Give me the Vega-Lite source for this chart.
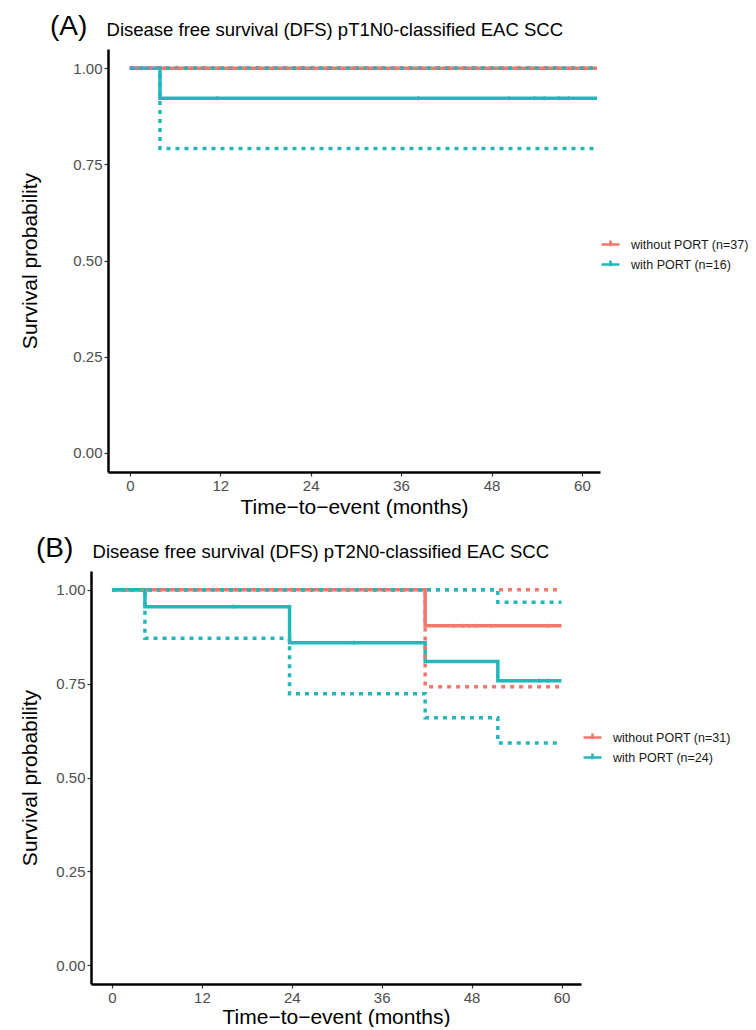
{
  "$schema": "https://vega.github.io/schema/vega-lite/v6.json",
  "padding": {"left": 19, "top": 13, "right": 0, "bottom": 0},
  "background": "white",
  "spacing": 18,
  "columns": 1,
  "align": "none",
  "config": {
    "font": "Liberation Sans",
    "view": {"stroke": null},
    "axis": {
      "grid": false,
      "domainColor": "black",
      "domainWidth": 2.5,
      "tickColor": "#333333",
      "tickWidth": 1.2,
      "tickSize": 4,
      "labelColor": "#4D4D4D",
      "labelFontSize": 15,
      "labelFont": "Liberation Sans",
      "titleFont": "Liberation Sans",
      "titleFontSize": 21,
      "titleFontWeight": "normal",
      "titleColor": "black"
    },
    "legend": {
      "labelFont": "Liberation Sans",
      "labelFontSize": 12.5,
      "labelColor": "#1a1a1a",
      "labelOffset": 10,
      "symbolType": "M-1,0H1M0,-0.45V0.2",
      "symbolSize": 324,
      "symbolStrokeWidth": 2.6,
      "rowPadding": 2
    }
  },
  "datasets": {
    "A": [
      {"group": "without PORT (n=37)", "t": 0, "s": 1, "lo": 1, "hi": 1},
      {"group": "without PORT (n=37)", "t": 62, "s": 1, "lo": 1, "hi": 1},
      {"group": "with PORT (n=16)", "t": 0, "s": 1, "lo": 1, "hi": 1},
      {"group": "with PORT (n=16)", "t": 4, "s": 0.922, "lo": 0.791, "hi": 1},
      {"group": "with PORT (n=16)", "t": 62, "s": 0.922, "lo": 0.791, "hi": 1}
    ],
    "Acens": [
      {"group": "without PORT (n=37)", "t": 1.0, "s": 1},
      {"group": "without PORT (n=37)", "t": 2.8, "s": 1},
      {"group": "without PORT (n=37)", "t": 4.6, "s": 1},
      {"group": "without PORT (n=37)", "t": 6.4, "s": 1},
      {"group": "without PORT (n=37)", "t": 8.2, "s": 1},
      {"group": "without PORT (n=37)", "t": 10.0, "s": 1},
      {"group": "without PORT (n=37)", "t": 11.8, "s": 1},
      {"group": "without PORT (n=37)", "t": 13.6, "s": 1},
      {"group": "without PORT (n=37)", "t": 15.4, "s": 1},
      {"group": "without PORT (n=37)", "t": 17.2, "s": 1},
      {"group": "without PORT (n=37)", "t": 19.0, "s": 1},
      {"group": "without PORT (n=37)", "t": 20.8, "s": 1},
      {"group": "without PORT (n=37)", "t": 22.6, "s": 1},
      {"group": "without PORT (n=37)", "t": 24.4, "s": 1},
      {"group": "without PORT (n=37)", "t": 26.2, "s": 1},
      {"group": "without PORT (n=37)", "t": 28.0, "s": 1},
      {"group": "without PORT (n=37)", "t": 29.8, "s": 1},
      {"group": "without PORT (n=37)", "t": 31.6, "s": 1},
      {"group": "without PORT (n=37)", "t": 33.4, "s": 1},
      {"group": "without PORT (n=37)", "t": 35.2, "s": 1},
      {"group": "without PORT (n=37)", "t": 37.0, "s": 1},
      {"group": "without PORT (n=37)", "t": 38.8, "s": 1},
      {"group": "without PORT (n=37)", "t": 40.6, "s": 1},
      {"group": "without PORT (n=37)", "t": 42.4, "s": 1},
      {"group": "without PORT (n=37)", "t": 44.2, "s": 1},
      {"group": "without PORT (n=37)", "t": 46.0, "s": 1},
      {"group": "without PORT (n=37)", "t": 47.8, "s": 1},
      {"group": "without PORT (n=37)", "t": 49.6, "s": 1},
      {"group": "without PORT (n=37)", "t": 51.4, "s": 1},
      {"group": "without PORT (n=37)", "t": 53.2, "s": 1},
      {"group": "without PORT (n=37)", "t": 55.0, "s": 1},
      {"group": "without PORT (n=37)", "t": 56.8, "s": 1},
      {"group": "without PORT (n=37)", "t": 58.6, "s": 1},
      {"group": "without PORT (n=37)", "t": 60.4, "s": 1},
      {"group": "with PORT (n=16)", "t": 1.5, "s": 1},
      {"group": "with PORT (n=16)", "t": 11.6, "s": 0.922},
      {"group": "with PORT (n=16)", "t": 38.3, "s": 0.922},
      {"group": "with PORT (n=16)", "t": 50.3, "s": 0.922},
      {"group": "with PORT (n=16)", "t": 53.7, "s": 0.922},
      {"group": "with PORT (n=16)", "t": 55.0, "s": 0.922},
      {"group": "with PORT (n=16)", "t": 56.9, "s": 0.922},
      {"group": "with PORT (n=16)", "t": 58.2, "s": 0.922}
    ],
    "B": [
      {"group": "without PORT (n=31)", "t": 0, "s": 1, "lo": 1, "hi": 1},
      {"group": "without PORT (n=31)", "t": 41.8, "s": 0.904, "lo": 0.742, "hi": 1},
      {"group": "without PORT (n=31)", "t": 60, "s": 0.904, "lo": 0.742, "hi": 1},
      {"group": "with PORT (n=24)", "t": 0, "s": 1, "lo": 1, "hi": 1},
      {"group": "with PORT (n=24)", "t": 4.4, "s": 0.955, "lo": 0.871, "hi": 1},
      {"group": "with PORT (n=24)", "t": 23.7, "s": 0.859, "lo": 0.723, "hi": 1},
      {"group": "with PORT (n=24)", "t": 41.8, "s": 0.809, "lo": 0.659, "hi": 1},
      {"group": "with PORT (n=24)", "t": 51.5, "s": 0.758, "lo": 0.592, "hi": 0.967},
      {"group": "with PORT (n=24)", "t": 60, "s": 0.758, "lo": 0.592, "hi": 0.967}
    ],
    "Bcens": [
      {"group": "without PORT (n=31)", "t": 2.0, "s": 1},
      {"group": "without PORT (n=31)", "t": 4.0, "s": 1},
      {"group": "without PORT (n=31)", "t": 6.5, "s": 1},
      {"group": "without PORT (n=31)", "t": 9.0, "s": 1},
      {"group": "without PORT (n=31)", "t": 11.5, "s": 1},
      {"group": "without PORT (n=31)", "t": 14.0, "s": 1},
      {"group": "without PORT (n=31)", "t": 16.5, "s": 1},
      {"group": "without PORT (n=31)", "t": 19.0, "s": 1},
      {"group": "without PORT (n=31)", "t": 21.5, "s": 1},
      {"group": "without PORT (n=31)", "t": 24.0, "s": 1},
      {"group": "without PORT (n=31)", "t": 26.5, "s": 1},
      {"group": "without PORT (n=31)", "t": 29.0, "s": 1},
      {"group": "without PORT (n=31)", "t": 31.5, "s": 1},
      {"group": "without PORT (n=31)", "t": 34.0, "s": 1},
      {"group": "without PORT (n=31)", "t": 36.5, "s": 1},
      {"group": "without PORT (n=31)", "t": 39.0, "s": 1},
      {"group": "without PORT (n=31)", "t": 45.6, "s": 0.904},
      {"group": "without PORT (n=31)", "t": 46.9, "s": 0.904},
      {"group": "without PORT (n=31)", "t": 47.7, "s": 0.904},
      {"group": "without PORT (n=31)", "t": 48.6, "s": 0.904},
      {"group": "without PORT (n=31)", "t": 50.6, "s": 0.904},
      {"group": "without PORT (n=31)", "t": 58.2, "s": 0.904},
      {"group": "with PORT (n=24)", "t": 16.2, "s": 0.955},
      {"group": "with PORT (n=24)", "t": 32.3, "s": 0.859},
      {"group": "with PORT (n=24)", "t": 57.0, "s": 0.758},
      {"group": "with PORT (n=24)", "t": 58.2, "s": 0.758}
    ]
  },
  "concat": [
    {
      "width": 509,
      "height": 423,
      "title": {
        "text": "(A)",
        "subtitle": "\u200b\u00a0\u00a0\u00a0\u00a0\u00a0\u00a0\u00a0\u00a0\u00a0\u00a0\u00a0Disease free survival (DFS) pT1N0-classified EAC SCC",
        "anchor": "start",
        "frame": "group",
        "dx": -41,
        "font": "Liberation Sans",
        "fontSize": 28,
        "fontWeight": "normal",
        "color": "black",
        "subtitleFont": "Liberation Sans",
        "subtitleFontSize": 18.5,
        "subtitleColor": "black",
        "subtitlePadding": -20.5,
        "offset": 8
      },
      "layer": [
        {
          "data": {"name": "A"},
          "mark": {"type": "line", "interpolate": "step-after", "strokeWidth": 3.5},
          "encoding": {
            "x": {"field": "t", "type": "quantitative", "scale": {"domain": [-2.9, 62.4], "range": [17, 509], "nice": false, "zero": false},
                  "axis": {"values": [0, 12, 24, 36, 48, 60], "title": "Time\u2212to\u2212event (months)", "titlePadding": 3}},
            "y": {"field": "s", "type": "quantitative", "scale": {"domain": [-0.05, 1.05], "nice": false},
                  "axis": {"values": [0, 0.25, 0.5, 0.75, 1], "format": ".2f", "title": "Survival probability", "titlePadding": 32, "offset": -17}},
            "color": {"field": "group", "type": "nominal",
                      "scale": {"domain": ["without PORT (n=37)", "with PORT (n=16)"], "range": ["#F2776D", "#22B7BA"]},
                      "legend": {"title": null, "orient": "none", "legendX": 509, "legendY": 185}}
          }
        },
        {
          "data": {"name": "A"},
          "mark": {"type": "line", "interpolate": "step-after", "strokeWidth": 3.5, "strokeDash": [4, 5]},
          "encoding": {
            "x": {"field": "t", "type": "quantitative"},
            "y": {"field": "lo", "type": "quantitative"},
            "color": {"field": "group", "type": "nominal", "legend": null},
            "detail": {"field": "group"}
          }
        },
        {
          "data": {"name": "A"},
          "mark": {"type": "line", "interpolate": "step-after", "strokeWidth": 3.5, "strokeDash": [4, 5]},
          "encoding": {
            "x": {"field": "t", "type": "quantitative"},
            "y": {"field": "hi", "type": "quantitative"},
            "color": {"field": "group", "type": "nominal", "legend": null},
            "detail": {"field": "group"}
          }
        },
        {
          "data": {"name": "Acens"},
          "mark": {"type": "point", "shape": "M0,-1V1M-1,0H1", "size": 18, "filled": false, "strokeWidth": 1.2, "opacity": 1},
          "encoding": {
            "x": {"field": "t", "type": "quantitative"},
            "y": {"field": "s", "type": "quantitative"},
            "color": {"field": "group", "type": "nominal", "legend": null}
          }
        }
      ],
      "resolve": {"scale": {"color": "shared"}}
    },
    {
      "width": 490,
      "height": 413,
      "title": {
        "text": "(B)",
        "subtitle": "\u200b\u00a0\u00a0\u00a0\u00a0\u00a0\u00a0\u00a0\u00a0\u00a0\u00a0\u00a0Disease free survival (DFS) pT2N0-classified EAC SCC",
        "anchor": "start",
        "frame": "group",
        "dx": -55,
        "font": "Liberation Sans",
        "fontSize": 28,
        "fontWeight": "normal",
        "color": "black",
        "subtitleFont": "Liberation Sans",
        "subtitleFontSize": 18.5,
        "subtitleColor": "black",
        "subtitlePadding": -20.5,
        "offset": 8
      },
      "layer": [
        {
          "data": {"name": "B"},
          "mark": {"type": "line", "interpolate": "step-after", "strokeWidth": 3.5},
          "encoding": {
            "x": {"field": "t", "type": "quantitative", "scale": {"domain": [-2.8, 62.6], "nice": false, "zero": false},
                  "axis": {"values": [0, 12, 24, 36, 48, 60], "title": "Time\u2212to\u2212event (months)", "titlePadding": 1}},
            "y": {"field": "s", "type": "quantitative", "scale": {"domain": [-0.05, 1.05], "nice": false},
                  "axis": {"values": [0, 0.25, 0.5, 0.75, 1], "format": ".2f", "title": "Survival probability", "titlePadding": 15}},
            "color": {"field": "group", "type": "nominal",
                      "scale": {"domain": ["without PORT (n=31)", "with PORT (n=24)"], "range": ["#F2776D", "#22B7BA"]},
                      "legend": {"title": null, "orient": "none", "legendX": 491, "legendY": 156}}
          }
        },
        {
          "data": {"name": "B"},
          "mark": {"type": "line", "interpolate": "step-after", "strokeWidth": 3.5, "strokeDash": [4, 5]},
          "encoding": {
            "x": {"field": "t", "type": "quantitative"},
            "y": {"field": "lo", "type": "quantitative"},
            "color": {"field": "group", "type": "nominal", "legend": null},
            "detail": {"field": "group"}
          }
        },
        {
          "data": {"name": "B"},
          "mark": {"type": "line", "interpolate": "step-after", "strokeWidth": 3.5, "strokeDash": [4, 5]},
          "encoding": {
            "x": {"field": "t", "type": "quantitative"},
            "y": {"field": "hi", "type": "quantitative"},
            "color": {"field": "group", "type": "nominal", "legend": null},
            "detail": {"field": "group"}
          }
        },
        {
          "data": {"name": "Bcens"},
          "mark": {"type": "point", "shape": "M0,-1V1M-1,0H1", "size": 18, "filled": false, "strokeWidth": 1.2, "opacity": 1},
          "encoding": {
            "x": {"field": "t", "type": "quantitative"},
            "y": {"field": "s", "type": "quantitative"},
            "color": {"field": "group", "type": "nominal", "legend": null}
          }
        }
      ],
      "resolve": {"scale": {"color": "shared"}}
    }
  ],
  "resolve": {"scale": {"color": "independent"}, "legend": {"color": "independent"}}
}
